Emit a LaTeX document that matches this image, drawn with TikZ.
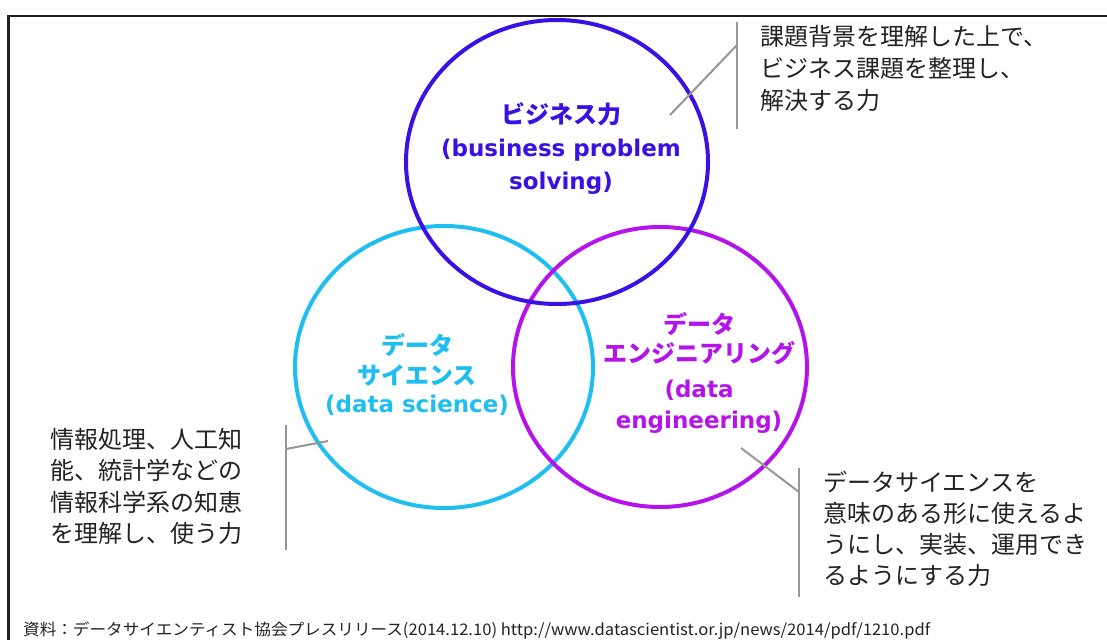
\documentclass[tikz,border=0pt]{standalone}
\usepackage{fontspec}
\usepackage{graphicx}
\usetikzlibrary{shapes.geometric}
\newfontfamily\jpfont{Noto Sans CJK JP}
\newfontfamily\dvfont{DejaVu Sans}
\definecolor{bizcol}{RGB}{58,16,228}
\definecolor{scicol}{RGB}{30,190,240}
\definecolor{engcol}{RGB}{180,20,235}
\definecolor{linecol}{RGB}{150,150,150}
\definecolor{txtcol}{RGB}{34,34,34}
\begin{document}
\begin{tikzpicture}[x=1pt,y=-1pt,
  venn/.style={draw, ellipse, line width=4pt, inner sep=0},
  jplabel/.style={anchor=base, inner sep=0, font=\jpfont\bfseries\fontsize{24}{24}\selectfont},
  enlabel/.style={anchor=base, inner sep=0, font=\dvfont\bfseries\fontsize{23}{23}\selectfont},
  note/.style={anchor=base west, inner sep=0, text=txtcol},
  lead/.style={draw=linecol, line width=2pt},
  frameline/.style={draw=black!88, line width=2.5pt}]
\useasboundingbox (0,0) rectangle (1107,640);
\fill[white] (0,0) rectangle (1107,640);
% frame
\coordinate (fr1) at (1107,16);
\coordinate (fr2) at (8.5,16);
\coordinate (fr3) at (8.5,640);
\draw[frameline] (fr1) -- (fr2) -- (fr3);
% circles
\node[venn, draw=scicol, minimum width=298pt, minimum height=282pt] (sci) at (444,367) {};
\node[venn, draw=engcol, minimum width=294pt, minimum height=280pt] (eng) at (660,367) {};
\node[venn, draw=bizcol, minimum width=302pt, minimum height=284pt] (biz) at (557,162) {};
% circle labels
\node[jplabel, text=bizcol] (biz1) at (561,123) {ビジネス力};
\node[enlabel, text=bizcol] (biz2) at (561,156) {(business problem};
\node[enlabel, text=bizcol] (biz3) at (561,189) {solving)};
\node[jplabel, text=scicol] (sci1) at (417,354) {データ};
\node[jplabel, text=scicol] (sci2) at (417,384) {サイエンス};
\node[enlabel, text=scicol] (sci3) at (417,412) {(data science)};
\node[jplabel, text=engcol] (eng1) at (699,333) {データ};
\node[jplabel, text=engcol] (eng2) at (699,362) {エンジニアリング};
\node[enlabel, text=engcol] (eng3) at (699,397) {(data};
\node[enlabel, text=engcol] (eng4) at (699,428) {engineering)};
% top-right annotation
\coordinate (tra) at (670,115);
\coordinate (trb) at (737,45);
\coordinate (trt) at (737,22);
\coordinate (trd) at (737,129);
\draw[lead] (trt) -- (trd);
\draw[lead] (tra) -- (trb);
\node[note] (trnote) at (760,45) {\jpfont\fontsize{24}{32}\selectfont\vtop{\hbox{課題背景を理解した上で、}\hbox{ビジネス課題を整理し、}\hbox{解決する力}}};
% left annotation
\coordinate (lfa) at (328,441);
\coordinate (lfb) at (286,449);
\coordinate (lft) at (286,425);
\coordinate (lfd) at (286,550);
\draw[lead] (lft) -- (lfd);
\draw[lead] (lfa) -- (lfb);
\node[note] (lfnote) at (50,448) {\jpfont\fontsize{24}{31.5}\selectfont\vtop{\hbox{情報処理、人工知}\hbox{能、統計学などの}\hbox{情報科学系の知恵}\hbox{を理解し、使う力}}};
% bottom-right annotation
\coordinate (bra) at (741,448);
\coordinate (brb) at (799,492);
\coordinate (brt) at (799,468);
\coordinate (brd) at (799,597);
\draw[lead] (brt) -- (brd);
\draw[lead] (bra) -- (brb);
\node[note] (brnote) at (823,491) {\jpfont\fontsize{24}{31.3}\selectfont\vtop{\hbox{データサイエンスを}\hbox{意味のある形に使えるよ}\hbox{うにし、実装、運用でき}\hbox{るようにする力}}};
% source
\node[note] (src) at (23,635) {\jpfont\fontsize{16}{16}\selectfont\resizebox{907pt}{\height}{資料：データサイエンティスト協会プレスリリース(2014.12.10) http://www.datascientist.or.jp/news/2014/pdf/1210.pdf}};
\end{tikzpicture}
\end{document}
